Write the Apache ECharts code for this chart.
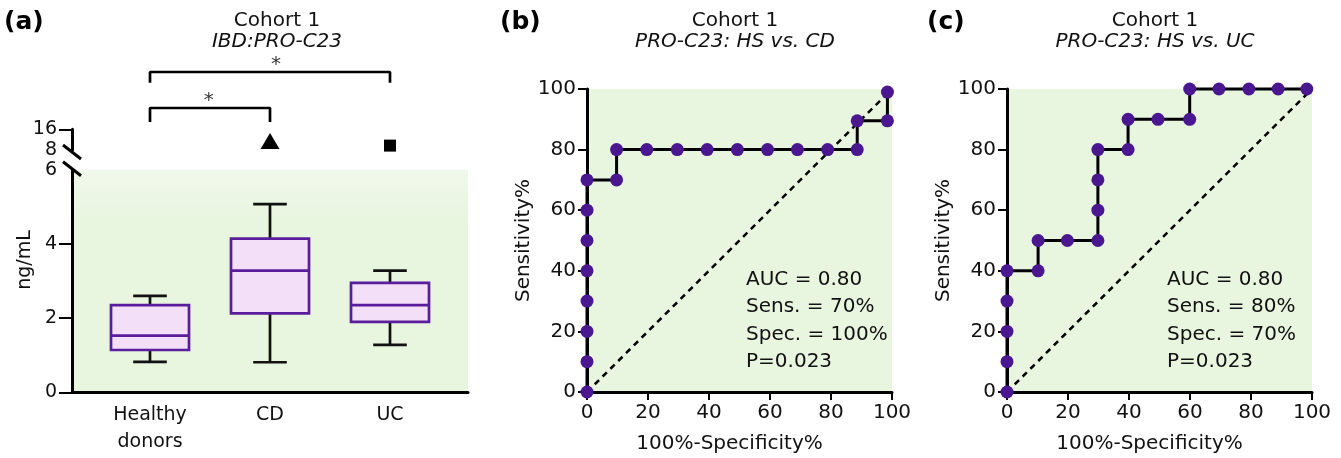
<!DOCTYPE html>
<html><head><meta charset="utf-8">
<script src="https://cdn.jsdelivr.net/npm/echarts@6/dist/echarts.min.js"></script>
<style>html,body{margin:0;padding:0;background:#fff}#c{width:1341px;height:458px}</style>
</head><body><div id="c"></div>
<script>
// ---------- data ----------
const categories = ['Healthy\ndonors', 'CD', 'UC'];
const boxMin    = [0.82, 0.81, 1.28];
const boxQ1     = [1.14, 2.13, 1.90];
const boxMedian = [1.53, 3.28, 2.35];
const boxQ3     = [2.35, 4.14, 2.95];
const boxMax    = [2.60, 5.07, 3.28];
const outlierValues = [null, 11.5, 9.7];
const lowerTicks = [0, 2, 4, 6];
const upperTicks = [8, 16];
const sigPairs = [[1, 3], [1, 2]];
const sigLabels = ['*', '*'];

const rocB_x = [0, 0, 0, 0, 0, 0, 0, 0, 9.7, 9.7, 19.6, 29.6, 39.4, 49.3, 59.2, 69, 78.9, 88.6, 88.6, 98.5, 98.5];
const rocB_y = [0, 10, 20, 30, 40, 50, 60, 70, 70, 80, 80, 80, 80, 80, 80, 80, 80, 80, 89.5, 89.5, 99];
const rocC_x = [0, 0, 0, 0, 0, 10.2, 10.2, 19.8, 29.8, 29.8, 29.8, 29.8, 39.7, 39.7, 49.5, 59.9, 59.9, 69.5, 79.3, 88.9, 98.3];
const rocC_y = [0, 10, 20, 30, 40, 40, 50, 50, 50, 60, 70, 80, 80, 90, 90, 90, 100, 100, 100, 100, 100];
const chance = [0, 100];
const statsB = ['AUC = 0.80', 'Sens. = 70%', 'Spec. = 100%', 'P=0.023'];
const statsC = ['AUC = 0.80', 'Sens. = 80%', 'Spec. = 70%', 'P=0.023'];

// ---------- styles ----------
const FONT = 'DejaVu Sans';
const TXT = '#111';
const GREEN = '#e8f5df';
const PURPLE = '#4a1790';
const BOXLINE = '#5a1e9c';
const BOXFILL = '#f3dff8';

const chart = echarts.init(document.getElementById('c'), null, {renderer: 'canvas'});

function rocAxes(grid) {
  return {
    x: {
      gridIndex: grid, type: 'value', min: 0, max: 100, interval: 20,
      axisLine: {onZero: false, lineStyle: {color: '#000', width: 3}},
      axisTick: {length: 8, lineStyle: {color: '#000', width: 2}},
      axisLabel: {fontFamily: FONT, fontSize: 20, color: TXT, margin: 11},
      splitLine: {show: false},
      name: '100%-Specificity%', nameLocation: 'middle', nameGap: 42,
      nameTextStyle: {fontFamily: FONT, fontSize: 20, color: TXT, padding: [0, 20, 0, 0]}
    },
    y: {
      gridIndex: grid, type: 'value', min: 0, max: 100, interval: 20,
      axisLine: {onZero: false, lineStyle: {color: '#000', width: 3}},
      axisTick: {length: 9, lineStyle: {color: '#000', width: 2}},
      axisLabel: {fontFamily: FONT, fontSize: 20, color: TXT, margin: 11},
      splitLine: {show: false},
      name: 'Sensitivity%', nameLocation: 'middle', nameGap: 48,
      nameTextStyle: {fontFamily: FONT, fontSize: 20, color: TXT}
    }
  };
}
const rb = rocAxes(3), rc = rocAxes(4);

function rocSeries(xs, ys, axis) {
  return [
    {
      type: 'line', xAxisIndex: axis, yAxisIndex: axis, data: chance.map(v => [v, v]),
      symbol: 'none', lineStyle: {color: '#000', width: 2.5, type: [6, 5]}, z: 2, silent: true
    },
    {
      type: 'line', xAxisIndex: axis, yAxisIndex: axis, data: xs.map((x, i) => [x, ys[i]]),
      symbol: 'circle', symbolSize: 13, showAllSymbol: true, clip: false,
      itemStyle: {color: PURPLE, opacity: 1}, lineStyle: {color: '#000', width: 3}, z: 3
    }
  ];
}

const boxData = categories.map((c, i) => [i + 1, boxMin[i], boxQ1[i], boxMedian[i], boxQ3[i], boxMax[i]]);

function renderBox(params, api) {
  const x = api.value(0);
  const pMin = api.coord([x, api.value(1)]);
  const pQ1 = api.coord([x, api.value(2)]);
  const pMed = api.coord([x, api.value(3)]);
  const pQ3 = api.coord([x, api.value(4)]);
  const pMax = api.coord([x, api.value(5)]);
  const hw = api.size([0.65, 0])[0] / 2;
  const cw = api.size([0.28, 0])[0] / 2;
  const cx = pMed[0];
  const ws = {stroke: '#111', lineWidth: 2.7};
  return {
    type: 'group',
    children: [
      {type: 'line', shape: {x1: cx, y1: pMax[1], x2: cx, y2: pQ3[1]}, style: ws},
      {type: 'line', shape: {x1: cx, y1: pQ1[1], x2: cx, y2: pMin[1]}, style: ws},
      {type: 'line', shape: {x1: cx - cw, y1: pMax[1], x2: cx + cw, y2: pMax[1]}, style: ws},
      {type: 'line', shape: {x1: cx - cw, y1: pMin[1], x2: cx + cw, y2: pMin[1]}, style: ws},
      {type: 'rect', shape: {x: cx - hw, y: pQ3[1], width: 2 * hw, height: pQ1[1] - pQ3[1]},
        style: {fill: BOXFILL, stroke: BOXLINE, lineWidth: 2.7}},
      {type: 'line', shape: {x1: cx - hw, y1: pMed[1], x2: cx + hw, y2: pMed[1]},
        style: {stroke: BOXLINE, lineWidth: 2.7}}
    ]
  };
}

const outlierData = [];
outlierValues.forEach((v, i) => {
  if (v == null) return;
  outlierData.push({value: [i + 1, v], symbol: i === 1 ? 'triangle' : 'rect', symbolSize: i === 1 ? [19, 16] : [12, 12]});
});

// bracket levels in the annotation grid (0..10)
const bracketTop = [7.25, 2.75];
const bracketFoot = [5.9, 1.0];
const starLevel = [8.1, 3.6];
const starOffset = [0.05, -0.01];
const bracketSeries = sigPairs.map((p, k) => ({
  type: 'line', xAxisIndex: 2, yAxisIndex: 2, symbol: 'none', clip: false,
  data: [[p[0], bracketFoot[k]], [p[0], bracketTop[k]], [p[1], bracketTop[k]], [p[1], bracketFoot[k]]],
  lineStyle: {color: '#000', width: 2.7}, silent: true
}));
const starSeries = {
  type: 'scatter', xAxisIndex: 2, yAxisIndex: 2, symbolSize: 1, itemStyle: {color: 'rgba(0,0,0,0)'},
  data: sigPairs.map((p, k) => ({value: [(p[0] + p[1]) / 2 + starOffset[k], starLevel[k]], name: sigLabels[k]})),
  label: {show: true, position: 'inside', formatter: d => d.name, fontFamily: FONT, fontSize: 20, color: '#000'},
  silent: true
};

const titleText = (left, sub) => ({
  text: 'Cohort 1', subtext: sub, left: left, top: 11, textAlign: 'center', itemGap: 1, padding: 0,
  textStyle: {fontFamily: FONT, fontSize: 20, fontWeight: 'normal', color: TXT},
  subtextStyle: {fontFamily: FONT, fontSize: 20, fontStyle: 'italic', color: TXT}
});
const panelLabel = (t, left) => ({
  text: t, left: left, top: 10, padding: 0,
  textStyle: {fontFamily: FONT, fontSize: 25, fontWeight: 'bold', color: '#000'}
});
const statsTitle = (lines, left) => ({
  text: lines.join('\n'), left: left, top: 266, padding: 0,
  textStyle: {fontFamily: FONT, fontSize: 20, fontWeight: 'normal', color: TXT, lineHeight: 27.5}
});

const option = {
  animation: false,
  backgroundColor: '#fff',
  title: [
    panelLabel('(a)', 4), panelLabel('(b)', 500), panelLabel('(c)', 927),
    titleText(277, 'IBD:PRO-C23'),
    titleText(735, 'PRO-C23: HS vs. CD'),
    titleText(1155, 'PRO-C23: HS vs. UC'),
    statsTitle(statsB, 746), statsTitle(statsC, 1167)
  ],
  grid: [
    {left: 72, top: 169.7, width: 396, height: 222.6, show: true, borderWidth: 0, containLabel: false, outerBoundsMode: 'none',
      backgroundColor: new echarts.graphic.LinearGradient(0, 0, 0, 1, [
        {offset: 0, color: '#f1f8ec'}, {offset: 0.22, color: GREEN}, {offset: 1, color: GREEN}])},
    {left: 72, top: 129.3, width: 396, height: 20.7, containLabel: false, outerBoundsMode: 'none'},
    {left: 72, top: 50, width: 396, height: 80, containLabel: false, outerBoundsMode: 'none'},
    {left: 587, top: 89, width: 305, height: 303, show: true, borderWidth: 0, backgroundColor: GREEN, containLabel: false, outerBoundsMode: 'none'},
    {left: 1007, top: 89, width: 305, height: 303, show: true, borderWidth: 0, backgroundColor: GREEN, containLabel: false, outerBoundsMode: 'none'}
  ],
  xAxis: [
    {gridIndex: 0, type: 'value', min: 0.35, max: 3.65,
      axisLine: {onZero: false, lineStyle: {color: '#000', width: 3}},
      axisTick: {show: false}, splitLine: {show: false},
      axisLabel: {customValues: [1, 2, 3], formatter: v => categories[Math.round(v) - 1] || '',
        fontFamily: FONT, fontSize: 19, color: TXT, lineHeight: 27, margin: 9}},
    {gridIndex: 1, type: 'value', min: 0.35, max: 3.65, show: false},
    {gridIndex: 2, type: 'value', min: 0.35, max: 3.65, show: false},
    rb.x, rc.x
  ],
  yAxis: [
    {gridIndex: 0, type: 'value', min: lowerTicks[0], max: lowerTicks[lowerTicks.length - 1], interval: 2,
      axisLine: {show: true, onZero: false, lineStyle: {color: '#000', width: 3}},
      axisTick: {show: true, length: 13, customValues: lowerTicks.slice(0, 3), lineStyle: {color: '#000', width: 2}},
      axisLabel: {fontFamily: FONT, fontSize: 19, color: TXT, margin: 15},
      splitLine: {show: false}},
    {gridIndex: 1, type: 'value', min: upperTicks[0], max: upperTicks[1], interval: 8,
      axisLine: {show: true, onZero: false, lineStyle: {color: '#000', width: 3}},
      axisTick: {show: true, length: 13, customValues: [upperTicks[1]], lineStyle: {color: '#000', width: 2}},
      axisLabel: {fontFamily: FONT, fontSize: 19, color: TXT, margin: 15},
      splitLine: {show: false}},
    {gridIndex: 2, type: 'value', min: 0, max: 10, show: false},
    rb.y, rc.y
  ],
  series: [
    {type: 'custom', xAxisIndex: 0, yAxisIndex: 0, renderItem: renderBox, data: boxData, clip: false, z: 3,
      encode: {x: 0, y: [1, 2, 3, 4, 5]}},
    {type: 'scatter', xAxisIndex: 1, yAxisIndex: 1, data: outlierData, itemStyle: {color: '#000', opacity: 1}, clip: false, z: 3},
    ...bracketSeries,
    starSeries,
    ...rocSeries(rocB_x, rocB_y, 3),
    ...rocSeries(rocC_x, rocC_y, 4)
  ]
};
chart.setOption(option);

// axis break marks and the y-axis title of panel (a)
const p8 = chart.convertToPixel({gridIndex: 1}, [0.35, upperTicks[0]]);
const p6 = chart.convertToPixel({gridIndex: 0}, [0.35, lowerTicks[lowerTicks.length - 1]]);
const slash = (cx, cy) => ({type: 'line', shape: {x1: cx - 9, y1: cy - 7, x2: cx + 9, y2: cy + 7},
  style: {stroke: '#000', lineWidth: 3}, z: 100});
chart.setOption({
  graphic: [
    slash(p8[0], p8[1] + 2),
    slash(p6[0], p6[1] - 1),
    {type: 'text', x: 25, y: 260, rotation: Math.PI / 2,
      style: {text: 'ng/mL', font: '19px "DejaVu Sans"', fill: TXT, align: 'center', verticalAlign: 'middle'}}
  ]
});
</script>
</body></html>
